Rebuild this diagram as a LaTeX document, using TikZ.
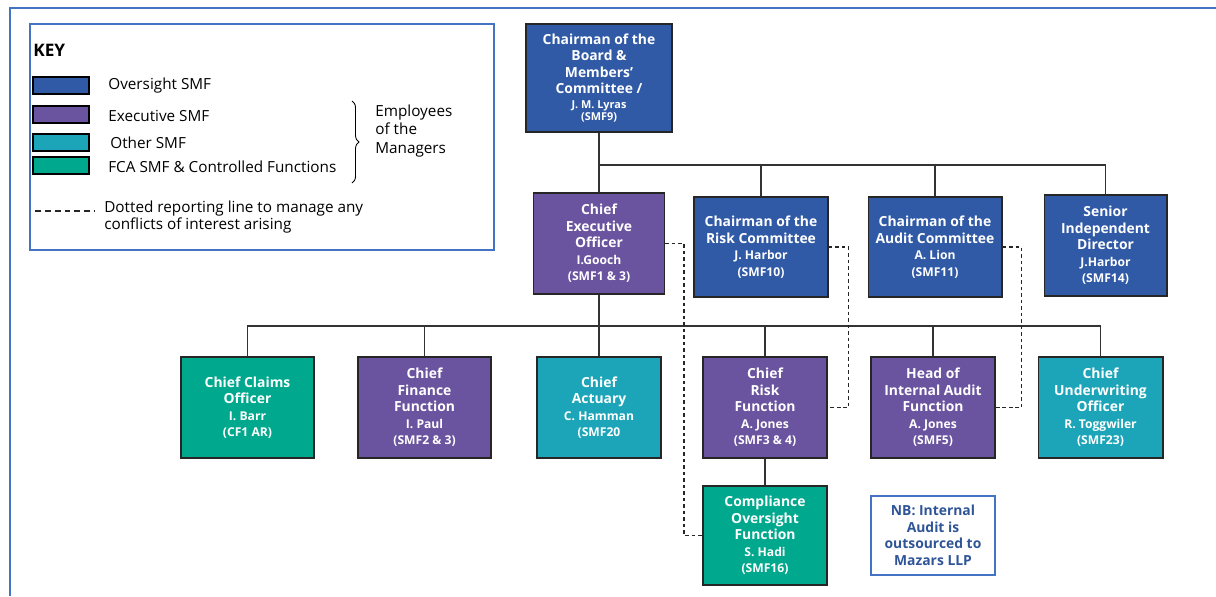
\documentclass[tikz,border=0pt]{standalone}
\usepackage{fontspec}
\setmainfont{Open Sans}
\usetikzlibrary{decorations.pathreplacing}
\definecolor{oversight}{RGB}{48,89,166}
\definecolor{executive}{RGB}{106,83,159}
\definecolor{othersmf}{RGB}{28,165,184}
\definecolor{fcasmf}{RGB}{0,168,141}
\definecolor{frameblue}{RGB}{68,114,196}
\definecolor{nbblue}{RGB}{47,85,151}
\newcommand{\who}[1]{{\fontsize{6.9}{9.4}\selectfont #1}}
\newcommand{\whosmall}[1]{{\fontsize{6.2}{7}\selectfont #1}}
\begin{document}
\begin{tikzpicture}[x=0.02cm,y=-0.02cm,
    smf/.style={draw=black!85,line width=0.6pt,text=white,font=\fontsize{7.9}{9.4}\selectfont\bfseries,align=center,inner sep=1pt,minimum height=2.02cm},
    wide/.style={minimum width=2.66cm},
    narrow/.style={minimum width=2.48cm},
    oversightbox/.style={smf,fill=oversight},
    executivebox/.style={smf,fill=executive},
    otherbox/.style={smf,fill=othersmf},
    fcabox/.style={smf,fill=fcasmf},
    link/.style={draw=black!80,line width=0.6pt},
    dotline/.style={draw=black!85,line width=0.7pt,dash pattern=on 2.2pt off 1.5pt},
    swatch/.style={draw=black,line width=0.6pt,minimum width=1.12cm,minimum height=0.34cm,inner sep=0pt},
    keytext/.style={anchor=west,font=\fontsize{8.7}{10.5}\selectfont,inner sep=0pt,align=left}]
    \useasboundingbox (0,0) rectangle (1216,596);
    %FRAME
    \draw[frameblue,line width=1.7pt] (10,596) -- (10,8) -- (1216,8);
    \draw[frameblue,line width=0.6pt] (30,24) rectangle (494,250);

    %KEY
    \node[keytext,font=\fontsize{9.8}{11}\selectfont\bfseries] (key) at (33,50) {KEY};
    \node[swatch,fill=oversight] (kov) at (61,85.5) {};
    \node[swatch,fill=executive] (kex) at (61,114.5) {};
    \node[swatch,fill=othersmf] (kot) at (61,142.5) {};
    \node[swatch,fill=fcasmf] (kfca) at (61,165.5) {};
    \node[keytext] (tov) at (108,86) {Oversight SMF};
    \node[keytext] (tex) at (108,116) {Executive SMF};
    \node[keytext] (tot) at (110,143) {Other SMF};
    \node[keytext] (tfca) at (108,167) {FCA SMF \& Controlled Functions};
    \draw[line width=0.5pt,decorate,decoration={brace,amplitude=4pt}] (352,101) -- (352,183);
    \node[keytext,font=\fontsize{8.7}{10.8}\selectfont] (emp) at (375,131) {Employees\\of the\\Managers};
    \coordinate (dashA) at (35,211);
    \coordinate (dashB) at (95,211);
    \draw[dotline,dash pattern=on 3.4pt off 2.2pt] (dashA) -- (dashB);
    \node[keytext,font=\fontsize{8.7}{10.2}\selectfont] (tdot) at (104,217) {Dotted reporting line to manage any\\conflicts of interest arising};

    %NODE
    \node[oversightbox,minimum width=2.92cm,minimum height=2.16cm] (chair) at (599,78) {Chairman of the\\Board \&\\Members'\\Committee /\\[-1pt]\whosmall{J. M. Lyras}\\[-2.6pt]\whosmall{(SMF9)}};
    \node[executivebox,minimum width=2.62cm] (ceo) at (599,243.5) {Chief\\Executive\\Officer\\\who{I.Gooch}\\\who{(SMF1 \& 3)}};
    \node[oversightbox,minimum width=2.68cm,minimum height=2cm] (riskc) at (761,247) {Chairman of the\\Risk Committee\\\who{J. Harbor}\\\who{(SMF10)}};
    \node[oversightbox,minimum width=2.68cm,minimum height=2cm] (auditc) at (935,247) {Chairman of the\\Audit Committee\\\who{A. Lion}\\\who{(SMF11)}};
    \node[oversightbox,minimum width=2.46cm] (sid) at (1105.5,245.5) {Senior\\Independent\\Director\\\who{J.Harbor}\\\who{(SMF14)}};

    \node[fcabox,wide] (claims) at (247.5,407.5) {Chief Claims\\Officer\\\who{I. Barr}\\\who{(CF1 AR)}};
    \node[executivebox,wide] (finance) at (424.5,407.5) {Chief\\Finance\\Function\\\who{I. Paul}\\\who{(SMF2 \& 3)}};
    \node[otherbox,narrow] (actuary) at (599,407.5) {Chief\\Actuary\\\who{C. Hamman}\\\who{(SMF20}};
    \node[executivebox,narrow] (riskf) at (765,407.5) {Chief\\Risk\\Function\\\who{A. Jones}\\\who{(SMF3 \& 4)}};
    \node[executivebox,narrow] (audit) at (933,407.5) {Head of\\Internal Audit\\Function\\\who{A. Jones}\\\who{(SMF5)}};
    \node[otherbox,wide,minimum width=2.5cm] (uw) at (1100.5,407.5) {Chief\\Underwriting\\Officer\\\who{R. Toggwiler}\\\who{(SMF23)}};
    \node[fcabox,narrow,minimum height=1.98cm] (comp) at (765,535.5) {Compliance\\Oversight\\Function\\\who{S. Hadi}\\\who{(SMF16)}};

    \node[draw=frameblue,line width=0.6pt,text=nbblue,font=\fontsize{7.9}{9.4}\selectfont\bfseries,align=center,minimum width=2.48cm,minimum height=1.58cm,inner sep=1pt] (nb) at (933,535.5) {NB: Internal\\Audit is\\outsourced to\\Mazars LLP};

    %EDGE
    \coordinate (bus1) at (599,165);
    \coordinate (bus2) at (599,326);
    \draw[link] (chair) -- (ceo);
    \draw[link] (bus1) -| (riskc);
    \draw[link] (bus1) -| (auditc);
    \draw[link] (bus1) -| (sid);
    \draw[link] (ceo) -- (actuary);
    \draw[link] (bus2) -| (claims);
    \draw[link] (bus2) -| (finance);
    \draw[link] (bus2) -| (riskf);
    \draw[link] (bus2) -| (audit);
    \draw[link] (bus2) -| (uw);
    \draw[link] (riskf) -- (comp);
    \draw[dotline] (ceo.east) -- ++(19,0) |- (comp.west);
    \draw[dotline] (riskc.east) -- ++(20,0) |- (riskf.east);
    \draw[dotline] (auditc.east) -- ++(19,0) |- (audit.east);
\end{tikzpicture}
\end{document}
